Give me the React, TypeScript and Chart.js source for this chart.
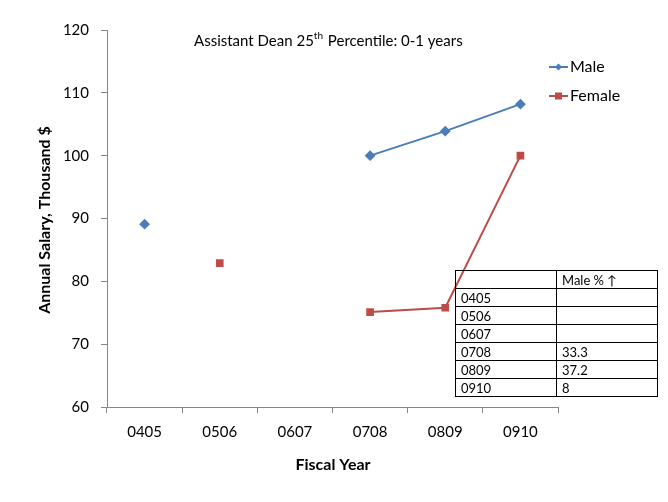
import React, { useEffect, useRef } from "react";
import { Chart, registerables } from "chart.js";

Chart.register(...registerables);

const categories = ["0405", "0506", "0607", "0708", "0809", "0910"];
const maleValues: (number | null)[] = [89.1, null, null, 100, 103.9, 108.2];
const femaleValues: (number | null)[] = [null, 82.9, null, 75.1, 75.8, 100];
const tableHeader = ["", "Male % \u2191"];
const tableYears = ["0405", "0506", "0607", "0708", "0809", "0910"];
const tableMalePct = ["", "", "", "33.3", "37.2", "8"];

const FONT = "Lato, 'Open Sans', sans-serif";
const MALE = "#4A7EBB";
const FEMALE = "#BE4B48";

const decor = {
  id: "decor",
  afterDraw(chart: any) {
    const ctx = chart.ctx;
    ctx.save();
    // frame
    ctx.fillStyle = "#111";
    ctx.fillRect(4, 2, 3, 498);
    ctx.fillRect(4, 2, 664, 2);
    ctx.fillStyle = "#777";
    ctx.fillRect(4, 499, 664, 2);
    // title
    ctx.fillStyle = "#000";
    ctx.textBaseline = "middle";
    ctx.textAlign = "left";
    ctx.font = `15px ${FONT}`;
    let x = 194;
    const y = 41;
    const p1 = "Assistant Dean 25";
    ctx.fillText(p1, x, y);
    x += ctx.measureText(p1).width;
    ctx.font = `10px ${FONT}`;
    ctx.fillText("th", x, y - 5);
    x += ctx.measureText("th").width + 1;
    ctx.font = `15px ${FONT}`;
    ctx.fillText(" Percentile: 0-1 years", x, y);

    // legend
    const items = [
      { label: "Male", color: MALE, y: 67, style: "diamond" },
      { label: "Female", color: FEMALE, y: 96, style: "square" },
    ];
    for (const it of items) {
      ctx.strokeStyle = it.color;
      ctx.lineWidth = 2;
      ctx.beginPath();
      ctx.moveTo(549, it.y);
      ctx.lineTo(568, it.y);
      ctx.stroke();
      ctx.fillStyle = it.color;
      if (it.style === "diamond") {
        ctx.beginPath();
        ctx.moveTo(558.5, it.y - 3.5);
        ctx.lineTo(562, it.y);
        ctx.lineTo(558.5, it.y + 3.5);
        ctx.lineTo(555, it.y);
        ctx.closePath();
        ctx.fill();
      } else {
        ctx.fillRect(555, it.y - 3.5, 7, 7);
      }
      ctx.fillStyle = "#000";
      ctx.font = `16px ${FONT}`;
      ctx.textAlign = "left";
      ctx.fillText(it.label, 570, it.y);
    }

    // axis titles
    ctx.font = `bold 16px ${FONT}`;
    ctx.textAlign = "center";
    ctx.fillText("Fiscal Year", 333, 465);
    ctx.translate(45, 220);
    ctx.rotate(-Math.PI / 2);
    ctx.fillText("Annual Salary, Thousand $", 0, 0);
    ctx.restore();
  },
};

export default function App() {
  const ref = useRef<HTMLCanvasElement>(null);
  useEffect(() => {
    if (!ref.current) return;
    const chart = new Chart(ref.current, {
      type: "line",
      data: {
        labels: categories,
        datasets: [
          {
            label: "Male",
            data: maleValues,
            borderColor: MALE,
            backgroundColor: MALE,
            borderWidth: 2,
            pointStyle: "rectRot",
            pointRadius: 4,
            spanGaps: false,
            tension: 0,
          },
          {
            label: "Female",
            data: femaleValues,
            borderColor: FEMALE,
            backgroundColor: FEMALE,
            borderWidth: 2,
            pointStyle: "rect",
            pointRadius: 4,
            spanGaps: false,
            tension: 0,
          },
        ],
      },
      options: {
        animation: false,
        responsive: false,
        maintainAspectRatio: false,
        layout: { padding: { left: 0, top: 30, right: 110, bottom: 0 } },
        plugins: {
          legend: { display: false },
          title: { display: false },
          tooltip: { enabled: false },
        },
        scales: {
          x: {
            offset: true,
            grid: {
              display: true,
              drawOnChartArea: false,
              drawTicks: true,
              tickLength: 6,
              color: "#868686",
              offset: true,
            },
            border: { display: true, color: "#868686", width: 1 },
            ticks: {
              color: "#000",
              font: { family: FONT, size: 15 },
              padding: 10,
              maxRotation: 0,
            },
            afterFit(scale: any) {
              scale.height = 95;
            },
          },
          y: {
            min: 60,
            max: 120,
            ticks: {
              stepSize: 10,
              color: "#000",
              font: { family: FONT, size: 15 },
              padding: 12,
            },
            grid: {
              display: true,
              drawOnChartArea: false,
              drawTicks: true,
              tickLength: 6,
              color: "#868686",
            },
            border: { display: true, color: "#868686", width: 1 },
            afterFit(scale: any) {
              scale.width = 107;
            },
          },
        },
      },
      plugins: [decor],
    });
    return () => chart.destroy();
  }, []);

  const cell: React.CSSProperties = {
    border: "1px solid #000",
    padding: "0 0 0 5px",
    height: 17,
    lineHeight: "16px",
    fontSize: 13,
    fontFamily: FONT,
    textAlign: "left",
    width: 95,
    overflow: "hidden",
    whiteSpace: "nowrap",
  };

  return (
    <div style={{ position: "relative", width: 668, height: 502, margin: -8, overflow: "hidden", background: "#fff" }}>
      <canvas ref={ref} width={668} height={502} style={{ position: "absolute", left: 0, top: 0, width: 668, height: 502 }} />
      <table
        style={{
          position: "absolute",
          left: 455,
          top: 270,
          borderCollapse: "collapse",
          background: "transparent",
          tableLayout: "fixed",
          width: 202,
        }}
      >
        <tbody>
          <tr>
            <td style={cell}>{tableHeader[0]}</td>
            <td style={cell}>{tableHeader[1]}</td>
          </tr>
          {tableYears.map((yr, i) => (
            <tr key={yr}>
              <td style={cell}>{yr}</td>
              <td style={cell}>{tableMalePct[i]}</td>
            </tr>
          ))}
        </tbody>
      </table>
    </div>
  );
}
